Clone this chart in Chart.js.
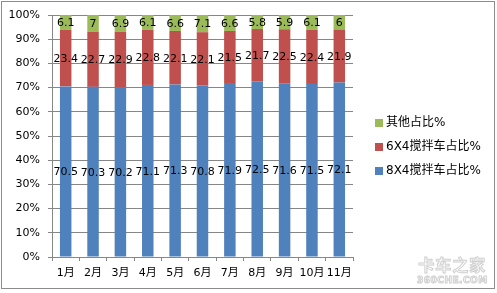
<!DOCTYPE html><html lang="zh">
<head>
  <meta charset="UTF-8" />
  <title>搅拌车占比</title>
  <script src="https://cdn.jsdelivr.net/npm/chart.js"></script>
  <style>
    body {
      margin: 0;
      background: #fff;
      font-family: "DejaVu Sans", "Noto Sans CJK SC", sans-serif;
    }
    #wrap {
      position: relative;
      width: 497px;
      height: 293px;
      overflow: hidden;
    }
    #chart {
      position: absolute;
      left: 0;
      top: 0;
    }
    #frame {
      position: absolute;
      left: 1px;
      top: 1px;
      width: 492px;
      height: 286px;
      border: 1px solid #8c8c8c;
      pointer-events: none;
    }
    #legend {
      position: absolute;
      left: 375px;
      top: 114px;
      font-size: 12px;
      color: #000;
    }
    #legend div {
      height: 24px;
      line-height: 16px;
      white-space: nowrap;
    }
    #legend span {
      display: inline-block;
      width: 8px;
      height: 8px;
      margin-right: 3px;
      vertical-align: -1px;
    }
    #mark {
      position: absolute;
      left: 417px;
      top: 258px;
      color: #fff;
      -webkit-text-stroke: 1px #cfcfcf;
      font-weight: bold;
      text-align: center;
      line-height: 1;
    }
    #mark .big { font-size: 16px; letter-spacing: 1px; }
    #mark .small { font-size: 9px; letter-spacing: 0.5px; margin-top: 2px; }
  </style>
</head>
<body>
  <div id="wrap">
    <canvas id="chart" width="497" height="293"></canvas>
    <div id="legend"></div>
    <div id="mark"><div class="big">卡车之家</div><div class="small">360CHE.COM</div></div>
    <div id="frame"></div>
  </div>
  <script>
    const months = ['1月', '2月', '3月', '4月', '5月', '6月', '7月', '8月', '9月', '10月', '11月'];
    const share8x4 = [70.5, 70.3, 70.2, 71.1, 71.3, 70.8, 71.9, 72.5, 71.6, 71.5, 72.1];
    const share6x4 = [23.4, 22.7, 22.9, 22.8, 22.1, 22.1, 21.5, 21.7, 22.5, 22.4, 21.9];
    const shareOther = [6.1, 7, 6.9, 6.1, 6.6, 7.1, 6.6, 5.8, 5.9, 6.1, 6];
    const yTicks = [0, 10, 20, 30, 40, 50, 60, 70, 80, 90, 100];

    const series = [
      { label: '8X4搅拌车占比%', data: share8x4, color: '#4f81bd' },
      { label: '6X4搅拌车占比%', data: share6x4, color: '#c0504d' },
      { label: '其他占比%', data: shareOther, color: '#9bbb59' }
    ];

    // values inside each segment
    const segmentLabels = {
      id: 'segmentLabels',
      afterDatasetsDraw(chart) {
        const ctx = chart.ctx;
        ctx.save();
        ctx.font = '11px "DejaVu Sans"';
        ctx.fillStyle = '#000';
        ctx.textAlign = 'center';
        ctx.textBaseline = 'middle';
        chart.data.datasets.forEach((ds, i) => {
          chart.getDatasetMeta(i).data.forEach((bar, j) => {
            ctx.fillText(String(ds.data[j]), bar.x, (bar.y + bar.base) / 2 + 1);
          });
        });
        ctx.restore();
      }
    };

    new Chart(document.getElementById('chart'), {
      type: 'bar',
      data: {
        labels: months,
        datasets: series.map(s => ({
          label: s.label,
          data: s.data,
          backgroundColor: s.color,
          barPercentage: 0.42,
          categoryPercentage: 1
        }))
      },
      options: {
        responsive: false,
        animation: false,
        layout: { padding: { top: 15, right: 144, bottom: 0, left: 0 } },
        plugins: { legend: { display: false }, tooltip: { enabled: false } },
        scales: {
          x: {
            stacked: true,
            afterFit(scale) { scale.height = 36; },
            grid: { drawOnChartArea: false, drawTicks: true, tickLength: 4, color: '#868686' },
            border: { color: '#868686' },
            ticks: { color: '#000', font: { size: 11, family: '"DejaVu Sans", "Noto Sans CJK SC"' }, padding: 6, maxRotation: 0, autoSkip: false }
          },
          y: {
            stacked: true,
            min: 0,
            max: 100,
            afterFit(scale) { scale.width = 52; },
            afterBuildTicks(scale) { scale.ticks = yTicks.map(v => ({ value: v })); },
            grid: { color: '#868686', tickLength: 4 },
            border: { color: '#868686' },
            ticks: {
              color: '#000',
              font: { size: 11, family: '"DejaVu Sans"' },
              padding: 8,
              callback: v => v + '%'
            }
          }
        }
      },
      plugins: [segmentLabels]
    });

    const legend = document.getElementById('legend');
    series.slice().reverse().forEach(s => {
      const row = document.createElement('div');
      row.innerHTML = '<span style="background:' + s.color + '"></span>' + s.label;
      legend.appendChild(row);
    });
  </script>
</body>
</html>
